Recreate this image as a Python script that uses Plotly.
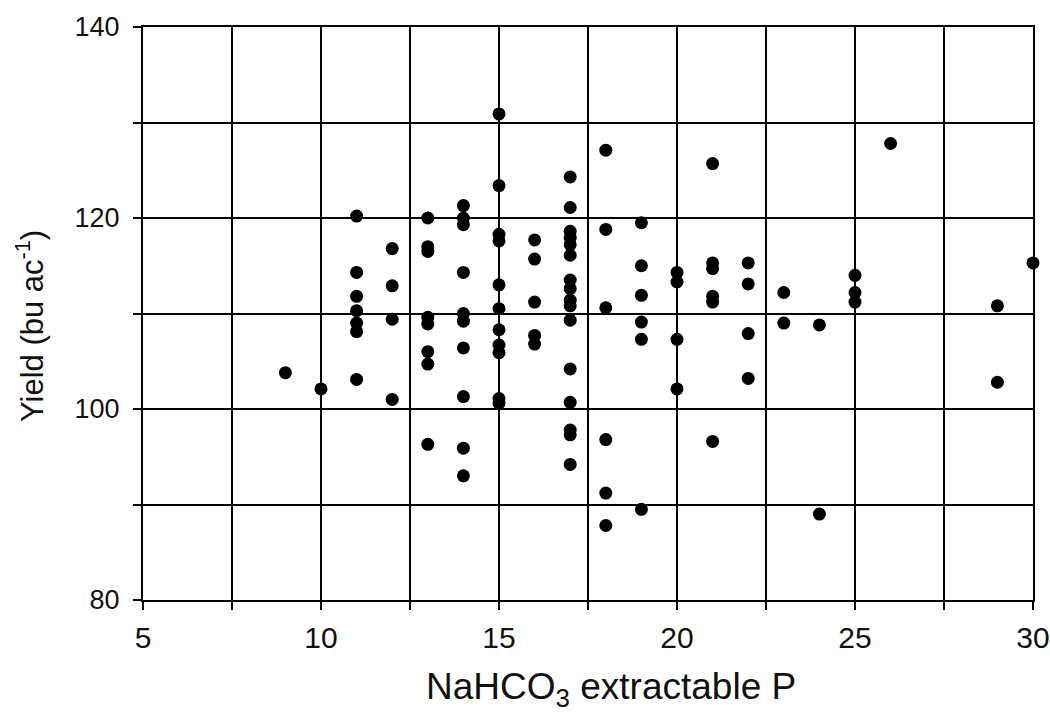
import plotly.graph_objects as go

# Extractable P (x) and yield (y)
p_values = (
    [9] + [10] + [11] * 7 + [12] * 4 + [13] * 8 + [14] * 10 + [15] * 11 + [16] * 5
    + [17] * 16 + [18] * 6 + [19] * 6 + [20] * 4 + [21] * 6 + [22] * 4 + [23] * 2
    + [24] * 2 + [25] * 3 + [26] + [29] * 2 + [30]
)
yield_values = (
    [103.8]
    + [102.1]
    + [120.2, 114.3, 111.8, 110.3, 109.0, 108.1, 103.1]
    + [116.8, 112.9, 109.4, 101.0]
    + [120.0, 117.0, 116.5, 109.6, 108.9, 106.0, 104.7, 96.3]
    + [121.3, 120.0, 119.3, 114.3, 110.0, 109.2, 106.4, 101.3, 95.9, 93.0]
    + [130.9, 123.4, 118.3, 117.6, 113.0, 110.5, 108.3, 106.7, 105.9, 101.1, 100.6]
    + [117.7, 115.7, 111.2, 107.7, 106.8]
    + [124.3, 121.1, 118.6, 117.9, 117.2, 116.1, 113.5, 112.6, 111.4, 110.8, 109.3,
       104.2, 100.7, 97.8, 97.3, 94.2]
    + [127.1, 118.8, 110.6, 96.8, 91.2, 87.8]
    + [119.5, 115.0, 111.9, 109.1, 107.3, 89.5]
    + [114.3, 113.3, 107.3, 102.1]
    + [125.7, 115.3, 114.7, 111.8, 111.2, 96.6]
    + [115.3, 113.1, 107.9, 103.2]
    + [112.2, 109.0]
    + [108.8, 89.0]
    + [114.0, 112.2, 111.2]
    + [127.8]
    + [110.8, 102.8]
    + [115.3]
)

x_title = "NaHCO<sub>3</sub> extractable P"
y_title = "Yield (bu ac<sup>-1</sup>)"

fig = go.Figure()
fig.add_trace(go.Scatter(
    x=p_values, y=yield_values, mode="markers",
    marker=dict(color="black", size=13, symbol="circle"),
    cliponaxis=False, showlegend=False,
))

axis_common = dict(
    showgrid=True, gridcolor="black", gridwidth=1.8,
    showline=True, linecolor="black", linewidth=2, mirror=True,
    ticks="outside", ticklen=8, tickwidth=1.6, tickcolor="black",
    zeroline=False, automargin=False,
)

fig.update_xaxes(
    range=[5, 30], tick0=5, dtick=5,
    minor=dict(dtick=2.5, showgrid=True, gridcolor="black", gridwidth=1.8,
               ticks="outside", ticklen=8, tickwidth=1.6, tickcolor="black"),
    tickfont=dict(family="Liberation Sans", size=30, color="#111"),
    ticklabelstandoff=2,
    **axis_common,
)
fig.update_yaxes(
    range=[80, 140], tick0=80, dtick=20,
    minor=dict(dtick=10, showgrid=True, gridcolor="black", gridwidth=1.8,
               ticks="outside", ticklen=8, tickwidth=1.6, tickcolor="black"),
    tickfont=dict(family="Liberation Sans", size=27, color="#111"),
    ticklabelstandoff=8,
    **axis_common,
)

fig.update_layout(
    width=1050, height=724,
    margin=dict(l=143, r=17, t=27, b=124),
    paper_bgcolor="white", plot_bgcolor="white",
    annotations=[
        dict(text=x_title, xref="paper", yref="paper", x=(611 - 143) / 890, y=-(689 - 600) / 573,
             xanchor="center", yanchor="middle", showarrow=False,
             font=dict(family="Liberation Sans", size=37, color="#111")),
        dict(text=y_title, xref="paper", yref="paper", x=-(143 - 30) / 890, y=(600 - 326) / 573,
             xanchor="center", yanchor="middle", showarrow=False, textangle=-90,
             font=dict(family="Liberation Sans", size=31, color="#111")),
    ],
)

fig.write_html("out.html")
